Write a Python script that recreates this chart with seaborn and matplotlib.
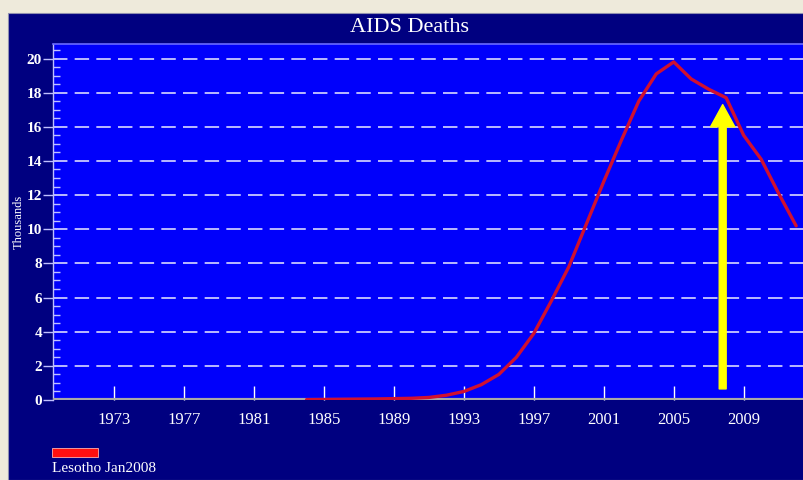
import matplotlib
matplotlib.use("Agg")
import matplotlib.pyplot as plt
from matplotlib.patches import Rectangle
from matplotlib.ticker import MultipleLocator
import pandas as pd
import seaborn as sns

# Lesotho AIDS deaths (thousands)
years = list(range(1984, 2013))
deaths = [0.02, 0.03, 0.04, 0.05, 0.06, 0.08, 0.10, 0.15, 0.28, 0.50,
          0.90, 1.50, 2.50, 3.90, 5.80, 7.80, 10.3, 12.8, 15.2, 17.5,
          19.1, 19.8, 18.8, 18.2, 17.7, 15.5, 14.1, 12.1, 10.2]
x_ticks = [1973, 1977, 1981, 1985, 1989, 1993, 1997, 2001, 2005, 2009]
y_ticks = [0, 2, 4, 6, 8, 10, 12, 14, 16, 18, 20]
series_label = "Lesotho Jan2008"
arrow_year = 2007.8
arrow_from, arrow_to = 0.65, 17.3

df = pd.DataFrame({"year": years, "deaths": deaths})

sns.set_style("white")
plt.rcParams["font.family"] = ["Liberation Serif", "DejaVu Serif"]

NAVY = "#000080"
BLUE = "#0000fb"
CREAM = "#eeeadb"

fig = plt.figure(figsize=(8.04, 4.8), dpi=100, facecolor=CREAM)
# navy panel (cream strip on top and left)
fig.patches.append(Rectangle((8 / 804, 0), 1, (480 - 13) / 480,
                             transform=fig.transFigure, facecolor=NAVY,
                             edgecolor="#9090b0", lw=0.8, zorder=-5))

ax = fig.add_axes([53 / 804, 80 / 480, 751 / 804, 356 / 480])
ax.set_facecolor(BLUE)

sns.lineplot(data=df, x="year", y="deaths", ax=ax, color="#d01030",
             lw=2.4, zorder=5)

ax.set_xlim(1969.5, 2012.45)
ax.set_ylim(0, 20.85)

# grid
for v in y_ticks[1:]:
    ax.axhline(v, color="#c8c8ff", lw=1.3, ls=(0, (8, 4)), zorder=1)

# axis line at zero
ax.axhline(0, color="#a8a8a8", lw=3, zorder=3)

ax.set_xticks(x_ticks)
ax.set_yticks(y_ticks)
ax.yaxis.set_minor_locator(MultipleLocator(0.5))
ax.tick_params(axis="x", bottom=True, direction="in", length=10, width=1,
               color="white", labelcolor="white", labelsize=12, pad=9)
ax.tick_params(axis="y", which="major", left=True, direction="out", length=7,
               width=1, color="#c0c0ff", labelcolor="white", labelsize=11, pad=1)
ax.tick_params(axis="y", which="minor", left=True, direction="in", length=5,
               width=1, color="#c0c0ff")
for t in ax.get_yticklabels():
    t.set_fontweight("bold")
for t in ax.xaxis.get_major_ticks():
    t.tick1line.set_zorder(4)

for side in ["top", "right", "bottom"]:
    ax.spines[side].set_visible(False)
ax.spines["left"].set_color("#c0c0ff")
ax.spines["left"].set_linewidth(1)
ax.spines["top"].set_visible(True)
ax.spines["top"].set_color("#6a6aff")
ax.spines["top"].set_linewidth(1.2)

ax.set_xlabel("")
ax.set_ylabel("Thousands", color="white", fontsize=9, labelpad=2)
ax.yaxis.set_label_coords(-0.037, 0.5)

# yellow arrow
ax.annotate("", xy=(arrow_year, arrow_to), xytext=(arrow_year, arrow_from),
            arrowprops=dict(arrowstyle="simple,head_length=1.6,head_width=1.75,tail_width=0.5",
                            mutation_scale=10, color="#ffff00", shrinkA=0, shrinkB=0),
            zorder=6)

# title
fig.text(410 / 804, 1 - 27 / 480, "AIDS Deaths", color="white", fontsize=16,
         ha="center", va="center")

# legend
fig.patches.append(Rectangle((52 / 804, 1 - 457 / 480), 46 / 804, 9 / 480,
                             transform=fig.transFigure, facecolor="#ff1010",
                             edgecolor="#ffb0b0", lw=0.6, zorder=3))
fig.text(52 / 804, 1 - 469 / 480, series_label, color="white", fontsize=11,
         ha="left", va="center")

fig.savefig("out.png", dpi=100, facecolor=CREAM)
